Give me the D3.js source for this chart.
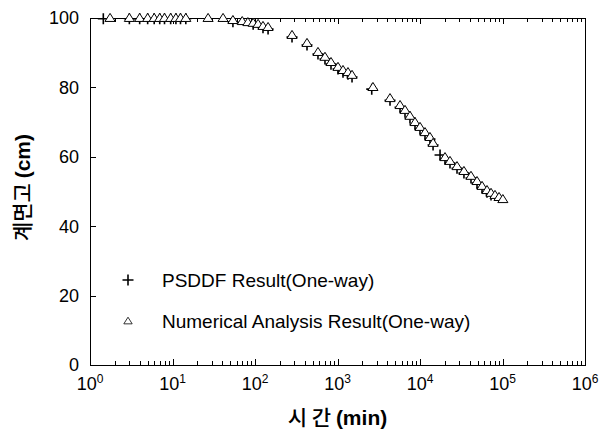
<!DOCTYPE html>
<html>
<head>
<meta charset="utf-8">
<script src="https://cdn.jsdelivr.net/npm/d3@7"></script>
<style>
  body { margin: 0; background: #fff; }
  svg { display: block; }
</style>
</head>
<body>
<div id="chart"></div>
<script>
// numerical analysis result (triangles)
const naTime = [1.75, 3, 4, 5, 6, 7, 8, 9.5, 11, 12.5, 14.5,
  27, 41, 54, 70, 82, 95, 109, 125, 144,
  281, 427, 580, 705, 834, 1014, 1166, 1340, 1500,
  2690, 4330, 5730, 6580, 7560, 8700, 10000, 11500, 13200, 14400,
  20100, 23100, 28100, 34100, 41500, 49100, 56500, 64900, 72600, 81100, 90800, 101000];
const naHeight = [100, 100, 100, 100, 100, 100, 100, 100, 100, 100, 100,
  100, 100, 99.4, 99.1, 98.8, 98.6, 98.3, 97.7, 97.4,
  95.1, 92.8, 90.2, 88.8, 87.3, 85.9, 85.0, 84.4, 83.6,
  80.1, 76.9, 74.9, 73.5, 71.8, 70.0, 68.6, 67.1, 65.7, 64.0,
  59.9, 58.8, 57.3, 55.9, 54.5, 53.0, 51.6, 50.4, 49.6, 49.0, 48.4, 47.8];

// PSDDF result (crosses)
const psddfTime = [1.45, 3, 4, 5, 6, 7, 8, 9.5, 11, 12.5, 14.5,
  54, 95, 125, 144,
  281, 427, 580, 705, 834, 1014, 1166, 1340, 1500,
  2600, 4330, 5730, 6580, 7560, 8700, 10000, 11500, 13200, 14400,
  17500, 20100, 23100, 28100, 34100, 41500, 49100, 56500, 64900, 72600];
const psddfHeight = [99.8, 99.8, 99.8, 99.8, 99.8, 99.8, 99.8, 99.8, 99.8, 99.8, 99.8,
  98.9, 98.2, 97.2, 96.8,
  94.5, 92.2, 89.6, 88.2, 86.7, 85.3, 84.4, 83.8, 83.0,
  79.5, 76.3, 74.3, 72.9, 71.2, 69.4, 68.0, 66.5, 65.1, 63.4,
  60.5, 59.3, 58.2, 56.7, 55.3, 53.9, 52.4, 51.0, 49.8, 49.0];

const yTicks = [0, 20, 40, 60, 80, 100];
const xDecades = [0, 1, 2, 3, 4, 5, 6];

const width = 599, height = 436;
const margin = { top: 18, right: 14, bottom: 71, left: 90 };
const font = "'Liberation Sans', Arial, sans-serif";
const krFont = "'Noto Sans CJK KR', sans-serif";

const svg = d3.select("#chart").append("svg")
  .attr("width", width)
  .attr("height", height);

const x = d3.scaleLog()
  .domain([1, 1e6])
  .range([margin.left, width - margin.right]);

const y = d3.scaleLinear()
  .domain([0, 100])
  .range([height - margin.bottom, margin.top]);

const x0 = x.range()[0], x1 = x.range()[1];
const y0 = y.range()[0], y1 = y.range()[1];

// minor + major ticks of the log axis
const allTicks = [];
xDecades.slice(0, -1).forEach(d => {
  for (let m = 1; m < 10; m++) allTicks.push({ v: m * Math.pow(10, d), major: m === 1 });
});
allTicks.push({ v: 1e6, major: true });

const tickG = svg.append("g").attr("stroke", "#000").attr("stroke-width", 1);

// bottom and top ticks, pointing inward
tickG.selectAll(".xb").data(allTicks).enter().append("line")
  .attr("x1", d => Math.round(x(d.v)) + 0.5)
  .attr("x2", d => Math.round(x(d.v)) + 0.5)
  .attr("y1", y0)
  .attr("y2", d => y0 - (d.major ? 6 : 4));

tickG.selectAll(".xt").data(allTicks).enter().append("line")
  .attr("x1", d => Math.round(x(d.v)) + 0.5)
  .attr("x2", d => Math.round(x(d.v)) + 0.5)
  .attr("y1", y1)
  .attr("y2", d => y1 + (d.major ? 6 : 4));

// left ticks
tickG.selectAll(".yl").data(yTicks).enter().append("line")
  .attr("x1", x0)
  .attr("x2", x0 + 6)
  .attr("y1", d => Math.round(y(d)) + 0.5)
  .attr("y2", d => Math.round(y(d)) + 0.5);

// frame
svg.append("rect")
  .attr("x", x0 + 0.5)
  .attr("y", y1 + 0.5)
  .attr("width", x1 - x0)
  .attr("height", y0 - y1)
  .attr("fill", "none")
  .attr("stroke", "#000")
  .attr("stroke-width", 1);

// y tick labels
svg.append("g").selectAll("text").data(yTicks).enter().append("text")
  .attr("x", x0 - 11)
  .attr("y", d => y(d))
  .attr("dy", "0.36em")
  .attr("text-anchor", "end")
  .attr("font-family", font)
  .attr("font-size", 18)
  .text(d => d);

// x tick labels 10^n
const xl = svg.append("g").selectAll("text").data(xDecades).enter().append("text")
  .attr("x", d => x(Math.pow(10, d)))
  .attr("y", y0 + 25)
  .attr("text-anchor", "middle")
  .attr("font-family", font)
  .attr("font-size", 18);
xl.append("tspan").text("10");
xl.append("tspan").attr("dy", -7).attr("font-size", 12).text(d => d);

// axis titles
const xt = svg.append("text")
  .attr("x", (x0 + x1) / 2)
  .attr("y", 425)
  .attr("text-anchor", "middle")
  .attr("font-size", 21);
xt.append("tspan").attr("font-family", krFont).attr("font-weight", 500).text("시  간 ");
xt.append("tspan").attr("font-family", font).attr("font-weight", "bold").text("(min)");

const yt = svg.append("text")
  .attr("transform", `translate(30, ${(y0 + y1) / 2 - 4}) rotate(-90)`)
  .attr("text-anchor", "middle")
  .attr("font-size", 21);
yt.append("tspan").attr("font-family", krFont).attr("font-weight", 500).text("계면고 ");
yt.append("tspan").attr("font-family", font).attr("font-weight", "bold").text("(cm)");

// markers
const plusPath = s => `M${-s},0H${s}M0,${-s}V${s}`;
const triPath = s => `M0,${-s}L${s * 1.1},${s * 0.75}L${-s * 1.1},${s * 0.75}Z`;

const psddf = psddfTime.map((t, i) => ({ t, v: psddfHeight[i] }));
const na = naTime.map((t, i) => ({ t, v: naHeight[i] }));

svg.append("g").selectAll("path").data(psddf).enter().append("path")
  .attr("transform", d => `translate(${x(d.t)},${y(d.v)})`)
  .attr("d", plusPath(5.5))
  .attr("fill", "none")
  .attr("stroke", "#000")
  .attr("stroke-width", 1.6);

svg.append("g").selectAll("path").data(na).enter().append("path")
  .attr("transform", d => `translate(${x(d.t)},${y(d.v)})`)
  .attr("d", triPath(4.6))
  .attr("fill", "#fff")
  .attr("stroke", "#000")
  .attr("stroke-width", 1);

// legend
const legend = svg.append("g").attr("font-family", font).attr("font-size", 19);
legend.append("path")
  .attr("transform", "translate(128,280)")
  .attr("d", plusPath(5.5))
  .attr("stroke", "#000")
  .attr("stroke-width", 1.6);
legend.append("text").attr("x", 162).attr("y", 280).attr("dy", "0.36em")
  .text("PSDDF Result(One-way)");
legend.append("path")
  .attr("transform", "translate(128,321)")
  .attr("d", triPath(3.8))
  .attr("fill", "#fff")
  .attr("stroke", "#000")
  .attr("stroke-width", 0.8);
legend.append("text").attr("x", 162).attr("y", 321).attr("dy", "0.36em")
  .text("Numerical Analysis Result(One-way)");
</script>
</body>
</html>
